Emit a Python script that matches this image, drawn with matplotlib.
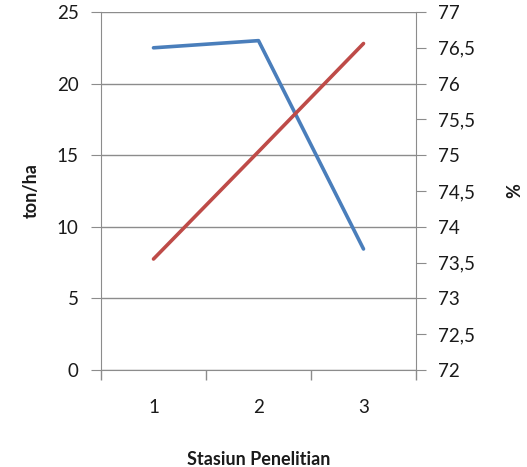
import matplotlib.pyplot as plt
import numpy as np

plt.rcParams["font.family"] = ["Lato", "DejaVu Sans"]

stations = ["1", "2", "3"]
yield_ton_ha = [22.5, 23.0, 8.45]
percent = [73.55, 75.05, 76.56]

BLUE = "#4A7EBB"
RED = "#BE4B48"
GRID = "#8C8C8C"
TEXT = "#1a1a1a"

fig = plt.figure(figsize=(5.27, 4.67), dpi=100)
ax = fig.add_axes([101 / 527, 1 - 370 / 467, (416 - 101) / 527, (370 - 12) / 467])
ax2 = ax.twinx()

x = np.arange(len(stations))
ax.plot(x, yield_ton_ha, color=BLUE, lw=2.6, solid_capstyle="round")
ax2.plot(x, percent, color=RED, lw=2.6, solid_capstyle="round")

ax.set_xlim(-0.5, len(stations) - 0.5)
ax.set_ylim(0, 25)
ax.set_yticks(np.arange(0, 26, 5))
ax2.set_ylim(72, 77)
ax2.set_yticks(np.arange(72, 77.01, 0.5))
ax2.set_yticklabels([f"{v:g}".replace(".", ",") for v in np.arange(72, 77.01, 0.5)])

# category labels centred, tick marks on the boundaries
ax.set_xticks(x)
ax.set_xticklabels(stations)
ax.tick_params(axis="x", length=0, pad=21)
ax.set_xticks(np.arange(-0.5, len(stations)), minor=True)
ax.tick_params(axis="x", which="minor", length=7, color=GRID, width=1)

ax.yaxis.grid(True, color=GRID, lw=1)
ax.set_axisbelow(True)
ax.spines["top"].set_visible(False)
ax2.spines["top"].set_visible(False)
ax2.spines["left"].set_visible(False)
ax.spines["right"].set_visible(False)
ax.spines["left"].set_color(GRID)
ax.spines["bottom"].set_color(GRID)
ax2.spines["right"].set_color(GRID)
ax2.spines["bottom"].set_visible(False)

ax.tick_params(axis="y", length=7, color=GRID, labelsize=13.5, pad=9, labelcolor=TEXT)
ax.tick_params(axis="x", labelsize=13.5, labelcolor=TEXT)
ax2.tick_params(axis="y", length=7, color=GRID, labelsize=13.5, pad=9, labelcolor=TEXT)

ax.set_ylabel("ton/ha", fontsize=13, fontweight="bold", labelpad=12, color=TEXT)
ax2.set_ylabel("%", fontsize=13, fontweight="bold", labelpad=22, color=TEXT)
ax.set_xlabel("Stasiun Penelitian", fontsize=13, fontweight="bold", labelpad=25, color=TEXT)

fig.savefig("out.png", dpi=100)
